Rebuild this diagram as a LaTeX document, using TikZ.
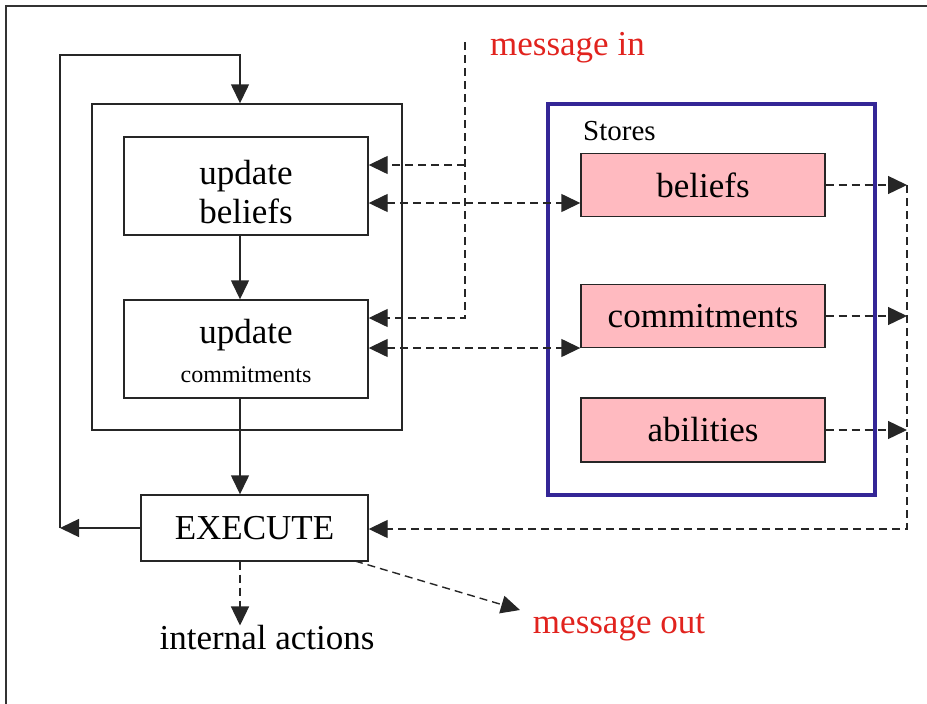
\documentclass[tikz,border=0pt]{standalone}
\usepackage{fontspec}
\setmainfont{Liberation Serif}
\usetikzlibrary{arrows.meta}
\definecolor{storeblue}{RGB}{52,38,150}
\definecolor{storepink}{RGB}{255,186,192}
\definecolor{msgred}{RGB}{225,35,30}
\newcommand{\bigfont}{\fontsize{35}{39}\selectfont}
\newcommand{\smallfont}{\fontsize{24}{28}\selectfont}
\begin{document}
\begin{tikzpicture}[x=1pt,y=-1pt,
  thinline/.style={draw=black!85, line width=1.4pt},
  box/.style={thinline, minimum width=244pt, inner sep=0pt, align=center, font=\bigfont},
  storebox/.style={box, fill=storepink, minimum height=63pt},
  flow/.style={line width=1.4pt, draw=black!85, -{Triangle[length=19pt,width=18pt]}},
  dflow/.style={flow, dash pattern=on 8pt off 5pt},
  bflow/.style={dflow, {Triangle[length=19pt,width=18pt]}-{Triangle[length=19pt,width=18pt]}},
  label/.style={font=\bigfont, inner sep=0pt}
]
\useasboundingbox (0,0) rectangle (927,704);
% outer frame
\draw[line width=1.2pt, draw=black!80] (6,704) -- (6,6) -- (927,6);

% core box
\node[thinline, minimum width=310pt, minimum height=326pt, inner sep=0pt] (core) at (247,267) {};
\node[box, minimum height=98pt] (ub) at (246,186) {\rule{0pt}{36pt}update\\beliefs};
\node[box, minimum height=98pt] (uc) at (246,349) {\rule{0pt}{29pt}update\\{\smallfont commitments}};
\node[box, minimum width=227pt, minimum height=66pt] (ex) at (254.5,528) {EXECUTE};

% stores
\node[draw=storeblue, line width=4pt, minimum width=327pt, minimum height=391pt, inner sep=0pt] (st) at (711.5,299.5) {};
\node[font=\fontsize{29}{32}\selectfont, anchor=west, inner sep=0pt] (stl) at (583,131) {Stores};
\node[storebox] (sb) at (703,185) {beliefs};
\node[storebox] (sc) at (703,316) {commitments};
\node[storebox, minimum height=64pt] (sa) at (703,430) {abilities};

% labels
\node[label] (ia) at (267,638) {internal actions};
\node[label, text=msgred] (mo) at (619,627) {message out};
\node[label, text=msgred, anchor=west] (mi) at (490,48) {message in};

% helper coordinates
\coordinate (ax) at (240,0);
\coordinate (loopL) at (60,528);
\coordinate (loopTL) at (60,55);
\coordinate (loopTR) at (240,55);
\coordinate (miTop) at (465,42);
\coordinate (miB) at (465,165);
\coordinate (miC) at (465,318);
\coordinate (row1) at (0,203);
\coordinate (row2) at (0,348);
\coordinate (rx) at (907,0);
\coordinate (rowEx) at (0,529);
\coordinate (moS) at (355,561);
\coordinate (moT) at (520,610);

% solid loop
\draw[flow] (ex.west) -- (loopL);
\draw[flow] (loopL) -- (loopTL) -- (loopTR) -- (loopTR |- core.north);
\draw[flow] (ub.south -| ax) -- (uc.north -| ax);
\draw[flow] (uc.south -| ax) -- (ex.north -| ax);

% outputs
\draw[dflow] (ex.south -| ax) -- (ia.north -| ax);
\draw[dflow] (moS) -- (moT);

% message in
\draw[dflow] (miTop) -- (miC) -- (miC -| uc.east);
\draw[dflow] (miB) -- (miB -| ub.east);

% bidirectional to stores
\draw[bflow] (ub.east |- row1) -- (sb.west |- row1);
\draw[bflow] (uc.east |- row2) -- (sc.west |- row2);

% stores to execute
\draw[dflow] (sb.east) -- (sb.east -| rx);
\draw[dflow] (sc.east) -- (sc.east -| rx);
\draw[dflow] (sa.east) -- (sa.east -| rx);
\draw[dflow] (rx |- sb.east) -- (rx |- rowEx) -- (ex.east |- rowEx);
\end{tikzpicture}
\end{document}
